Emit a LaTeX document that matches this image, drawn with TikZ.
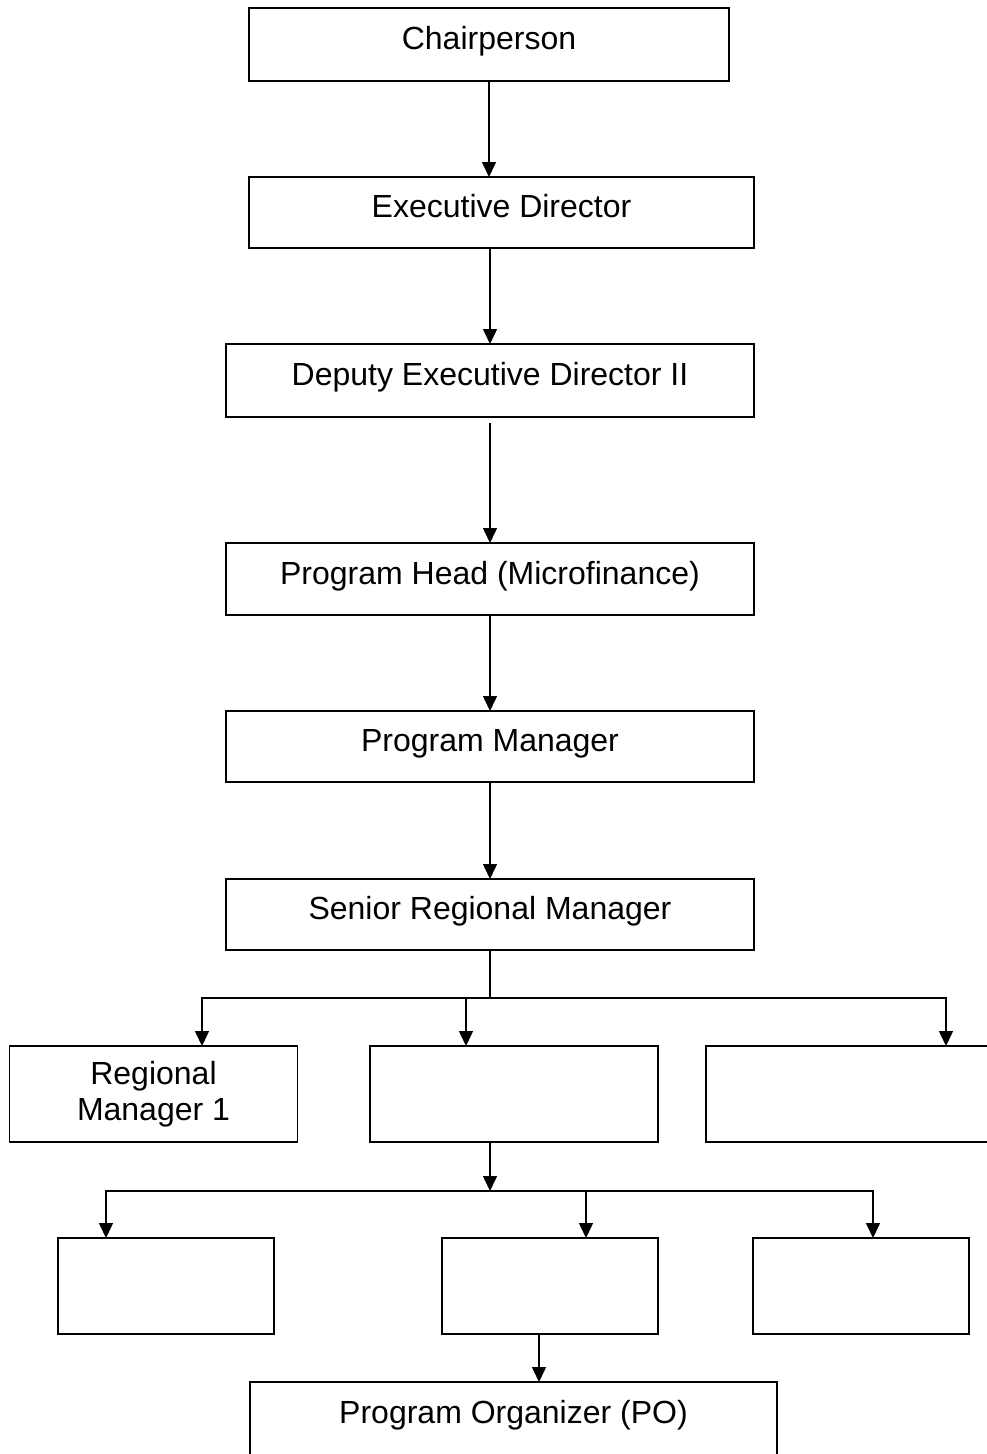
\documentclass[tikz,border=0pt]{standalone}
\usepackage{fontspec}
\setmainfont{Liberation Sans}
\usetikzlibrary{arrows.meta}
\begin{document}
\begin{tikzpicture}[x=1pt,y=-1pt,
  font=\fontsize{32}{36}\selectfont,
  box/.style={draw=black,line width=1.5pt,fill=white,inner sep=0pt,outer sep=0pt,
    text height=10pt,text depth=0pt,anchor=center},
  wide/.style={box,minimum height=72pt},
  small/.style={box,minimum width=288pt,minimum height=96pt},
  tiny/.style={box,minimum width=216pt,minimum height=96pt},
  conn/.style={line width=1.5pt,draw=black},
  arr/.style={conn,-{Triangle[width=14pt,length=15pt]}}]
\useasboundingbox (0,0) rectangle (987,1454);
\clip (0,0) rectangle (987,1454);

% chain of single posts
\node[wide,minimum width=480pt,minimum height=73pt] (chair) at (489,44.5) {Chairperson};
\node[wide,minimum width=505pt,minimum height=71pt] (ed) at (501.5,212.5) {Executive Director};
\node[wide,minimum width=528pt,minimum height=73pt] (ded) at (490,380.5) {Deputy Executive Director II};
\node[wide,minimum width=528pt] (ph) at (490,579) {Program Head (Microfinance)};
\node[wide,minimum width=528pt,minimum height=71pt] (pm) at (490,746.5) {Program Manager};
\node[wide,minimum width=528pt,minimum height=71pt] (srm) at (490,914.5) {Senior Regional Manager};

% regional managers
\node[small,align=center,text height=,text depth=] (rm1) at (153.5,1094) {Regional\\Manager 1};
\node[small] (rm2) at (514,1094) {};
\node[small] (rm3) at (850,1094) {};

% area level
\node[tiny] (b1) at (166,1286) {};
\node[tiny] (b2) at (550,1286) {};
\node[tiny] (b3) at (861,1286) {};

\node[wide,minimum width=527pt,minimum height=76pt,text height=6pt] (po) at (513.5,1420) {Program Organizer (PO)};

% vertical chain
\draw[arr] (chair.south) -- (chair.south |- ed.north);
\draw[arr] (ded.north |- ed.south) -- (ded.north);
\draw[arr,shorten <=6pt] (ded.south) -- (ph.north);
\draw[arr] (ph.south) -- (pm.north);
\draw[arr] (pm.south) -- (srm.north);

% branch to regional managers
\coordinate (j1) at (490,998);
\draw[conn] (srm.south) -- (j1);
\draw[arr] (j1) -| (202,0 |- rm1.north);
\draw[arr] (j1) -| (466,0 |- rm2.north);
\draw[arr] (j1) -| (946,0 |- rm3.north);

% branch to area level
\coordinate (j2) at (490,1191);
\draw[arr] (490,0 |- rm2.south) -- (j2);
\draw[arr] (j2) -| (106,0 |- b1.north);
\draw[arr] (j2) -| (586,0 |- b2.north);
\draw[arr] (j2) -| (873,0 |- b3.north);

% down to program organizer
\draw[arr] (539,0 |- b2.south) -- (539,0 |- po.north);
\end{tikzpicture}
\end{document}
